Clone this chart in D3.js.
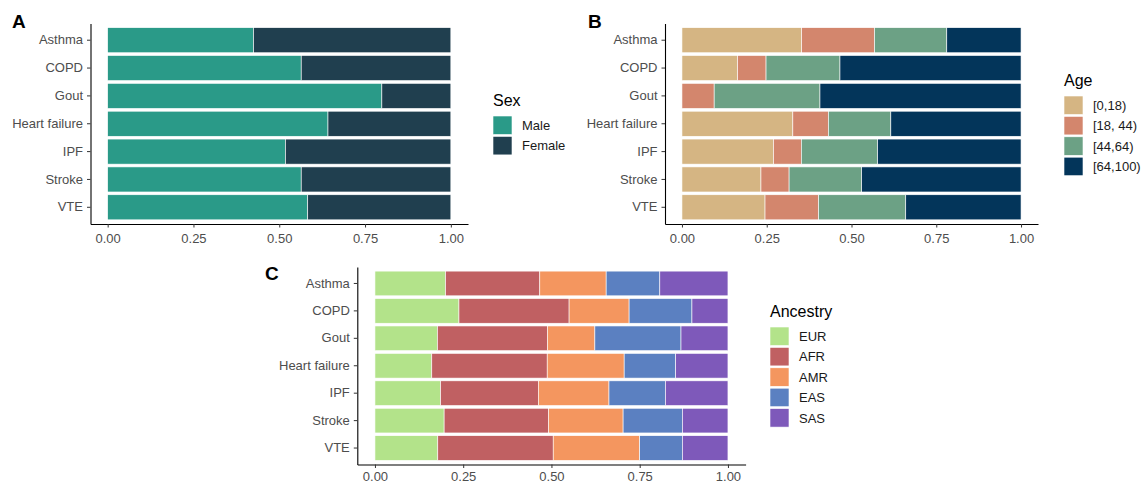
<!DOCTYPE html>
<html>
<head>
<meta charset="utf-8">
<script src="https://cdn.jsdelivr.net/npm/d3@7"></script>
<style>
  body { margin: 0; background: #fff; }
  svg { font-family: "Liberation Sans", Arial, sans-serif; }
</style>
</head>
<body>
<div id="chart"></div>
<script>
// categories
const diseases = ["Asthma", "COPD", "Gout", "Heart failure", "IPF", "Stroke", "VTE"];

// panel A: sex share
const sexGroups = ["Male", "Female"];
const male = [0.425, 0.564, 0.799, 0.642, 0.518, 0.564, 0.583];
const female = [0.575, 0.436, 0.201, 0.358, 0.482, 0.436, 0.417];

// panel B: age share
const ageGroups = ["[0,18)", "[18, 44)", "[44,64)", "[64,100)"];
const age0to18 = [0.353, 0.164, 0.000, 0.327, 0.270, 0.233, 0.245];
const age18to44 = [0.215, 0.084, 0.095, 0.105, 0.082, 0.083, 0.158];
const age44to64 = [0.213, 0.218, 0.312, 0.184, 0.225, 0.214, 0.257];
const age64to100 = [0.219, 0.534, 0.593, 0.384, 0.423, 0.470, 0.340];

// panel C: ancestry share
const ancestryGroups = ["EUR", "AFR", "AMR", "EAS", "SAS"];
const eur = [0.200, 0.238, 0.177, 0.161, 0.186, 0.196, 0.178];
const afr = [0.267, 0.312, 0.312, 0.327, 0.277, 0.296, 0.327];
const amr = [0.188, 0.170, 0.134, 0.218, 0.200, 0.211, 0.245];
const eas = [0.152, 0.178, 0.244, 0.146, 0.160, 0.168, 0.121];
const sas = [0.193, 0.102, 0.133, 0.148, 0.177, 0.129, 0.129];

const xTicks = [0, 0.25, 0.5, 0.75, 1];

const svg = d3.select("#chart").append("svg")
    .attr("width", 1141)
    .attr("height", 485);

function toRows(groups, series) {
    return diseases.map((d, i) => {
        const row = { disease: d };
        groups.forEach((g, j) => { row[g] = series[j][i]; });
        return row;
    });
}

function drawPanel(cfg) {
    const g = svg.append("g");

    // ggplot-like expansion: 5% on continuous x
    const x = d3.scaleLinear().domain([-0.05, 1.05]).range([cfg.left, cfg.right]);
    const y = d3.scaleBand()
        .domain(diseases)
        .range([cfg.top, cfg.bottom])
        .paddingInner(0.1)
        .paddingOuter(0.15);
    const color = d3.scaleOrdinal().domain(cfg.groups).range(cfg.colors);

    const stacked = d3.stack().keys(cfg.groups)(toRows(cfg.groups, cfg.series));

    g.selectAll("g.layer")
        .data(stacked)
        .enter().append("g")
        .attr("class", "layer")
        .attr("fill", d => color(d.key))
        .selectAll("rect")
        .data(d => d)
        .enter().append("rect")
        .attr("x", d => x(d[0]))
        .attr("y", d => y(d.data.disease))
        .attr("width", d => Math.max(0, x(d[1]) - x(d[0])))
        .attr("height", y.bandwidth())
        .attr("stroke", "#ffffff")
        .attr("stroke-width", 0.6);

    // axes
    const xAxis = g.append("g")
        .attr("transform", `translate(0,${cfg.bottom})`)
        .call(d3.axisBottom(x).tickValues(xTicks).tickFormat(d3.format(".2f"))
            .tickSize(3.5).tickSizeOuter(0).tickPadding(cfg.xPad));
    const yAxis = g.append("g")
        .attr("transform", `translate(${cfg.left},0)`)
        .call(d3.axisLeft(y).tickSize(3.5).tickSizeOuter(0).tickPadding(4));

    [xAxis, yAxis].forEach(a => {
        a.select(".domain").attr("stroke", "#000").attr("stroke-width", 1.1);
        a.selectAll(".tick line").attr("stroke", "#333333").attr("stroke-width", 1);
        a.selectAll(".tick text")
            .attr("fill", "#4d4d4d")
            .style("font-size", "13px")
            .style("font-family", "'Liberation Sans', Arial, sans-serif");
    });

    // panel tag
    g.append("text")
        .attr("x", cfg.tagX)
        .attr("y", cfg.tagY)
        .style("font-size", "19px")
        .style("font-weight", "bold")
        .text(cfg.tag);

    // legend
    const legend = g.append("g")
        .attr("transform", `translate(${cfg.legendX},${cfg.legendY})`);

    legend.append("text")
        .attr("x", 0)
        .attr("y", 0)
        .attr("dy", "0.35em")
        .style("font-size", "16px")
        .attr("fill", "#000")
        .text(cfg.title);

    cfg.groups.forEach((name, i) => {
        const ky = 16 + i * 20.4;
        legend.append("rect")
            .attr("x", 0)
            .attr("y", ky)
            .attr("width", 19)
            .attr("height", 18.5)
            .attr("fill", color(name))
            .attr("stroke", "#ffffff")
            .attr("stroke-width", 0.6);
        legend.append("text")
            .attr("x", 29)
            .attr("y", ky + 9.5)
            .attr("dy", "0.35em")
            .style("font-size", "13px")
            .attr("fill", "#1a1a1a")
            .text(name);
    });
}

drawPanel({
    tag: "A", tagX: 12, tagY: 28,
    left: 90.5, right: 468, top: 23.5, bottom: 224, xPad: 6,
    groups: sexGroups,
    series: [male, female],
    colors: ["#2a9a88", "#203f4f"],
    title: "Sex", legendX: 493, legendY: 100
});

drawPanel({
    tag: "B", tagX: 588, tagY: 28,
    left: 665, right: 1038, top: 23.5, bottom: 224, xPad: 6,
    groups: ageGroups,
    series: [age0to18, age18to44, age44to64, age64to100],
    colors: ["#d5b583", "#d3866d", "#6ca185", "#03355a"],
    title: "Age", legendX: 1064, legendY: 80
});

drawPanel({
    tag: "C", tagX: 265, tagY: 279.5,
    left: 357.3, right: 745.6, top: 267, bottom: 464.5, xPad: 4,
    groups: ancestryGroups,
    series: [eur, afr, amr, eas, sas],
    colors: ["#b3e38a", "#c06062", "#f4965f", "#5b80c1", "#7e59ba"],
    title: "Ancestry", legendX: 770, legendY: 311
});
</script>
</body>
</html>
